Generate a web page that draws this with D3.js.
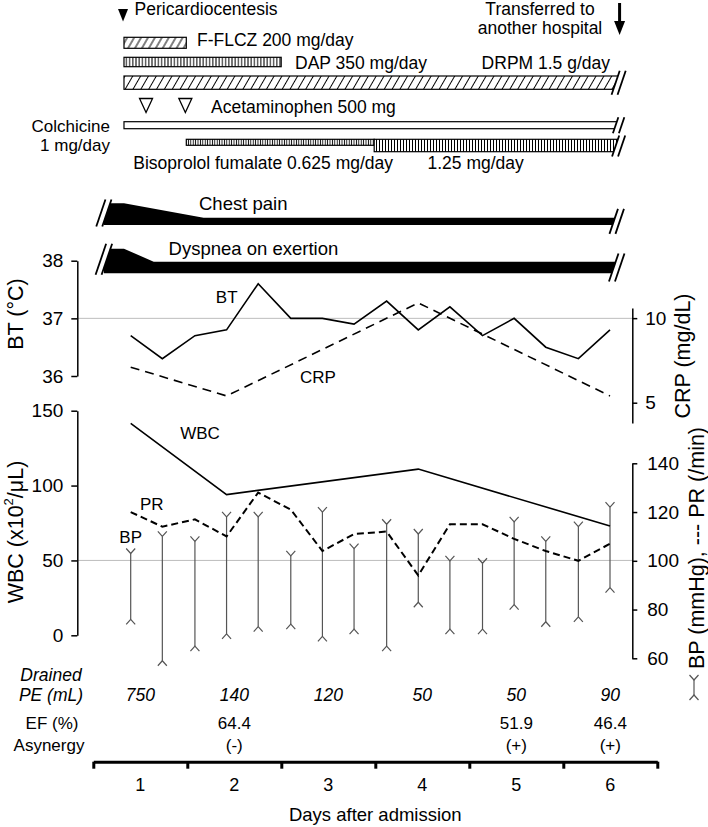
<!DOCTYPE html>
<html>
<head>
<meta charset="utf-8">
<script src="https://cdn.jsdelivr.net/npm/d3@7"></script>
<style>
  body { margin: 0; background: #fff; }
  svg { font-family: "Liberation Sans", Arial, sans-serif; }
</style>
</head>
<body>
<div id="chart"></div>
<script>
// vital signs, three readings a day (day 1 .. day 6)
const obsTime = [1, 1.33, 1.67, 2, 2.33, 2.67, 3, 3.33, 3.67, 4, 4.33, 4.67, 5, 5.33, 5.67, 6]
const btValues = [36.7, 36.3, 36.7, 36.8, 37.6, 37.0, 37.0, 36.9, 37.3, 36.8, 37.2, 36.7, 37.0, 36.5, 36.3, 36.8]
const prValues = [120, 114, 117, 110, 128, 121, 104, 111, 112, 94, 115, 115, 109, 104, 100, 107]
const bpSystolic = [103, 110, 108, 118, 118, 102, 120, 105, 115, 111, 100, 99, 116, 108, 114, 122]
const bpDiastolic = [76, 59, 65, 70, 73, 74, 69, 72, 65, 83, 72, 72, 82, 75, 77, 89]

// blood tests
const labTime = [1, 2, 4, 6]
const crpValues = [7.1, 5.4, 10.9, 5.4]
const wbcValues = [141.5, 94, 111, 73]

// table under the chart
const days = [1, 2, 3, 4, 5, 6]
const drainedPE = [750, 140, 120, 50, 50, 90]
const efPercent = ['', '64.4', '', '', '51.9', '46.4']
const asynergy = ['', '(-)', '', '', '(+)', '(+)']

// treatments (start / end in days)
const fflczDays = [0.93, 1.58]
const dapDays = [0.93, 2.57]
const drpmDays = [0.93, 6.09]
const colchicineDays = [0.93, 6.09]
const bisoprololDays = [1.58, 3.54, 6.09]
const acetaminophenDays = [1.16, 1.57]
const pericardiocentesisDay = 0.92
const transferDay = 6.1

// symptoms
const chestPainDays = [0.72, 0.93, 1.76, 6.07]
const chestPainLevel = [3, 3, 1, 1]
const dyspneaDays = [0.72, 0.93, 1.24, 6.07]
const dyspneaLevel = [3.4, 3.4, 1.6, 1.6]

const width = 708, height = 827
const left = 77.3, right = 632.3

const svg = d3.select('#chart').append('svg')
  .attr('width', width)
  .attr('height', height)

const x = d3.scaleLinear().domain([1, 6]).range([130.7, 610])
const yBT = d3.scaleLinear().domain([36, 38]).range([376, 260.7])
const yCRP = d3.scaleLinear().domain([3.8, 10.6]).range([423, 308])
const yWBC = d3.scaleLinear().domain([0, 150]).range([635.3, 410.7])
const yBP = d3.scaleLinear().domain([60, 140]).range([658.3, 463.3])
const sev = d3.scaleLinear().domain([0, 3]).range([0, 21.7])

// hatch patterns
const defs = svg.append('defs')
function hatch(id, w, angle, sw = 1) {
  const p = defs.append('pattern')
    .attr('id', id)
    .attr('patternUnits', 'userSpaceOnUse')
    .attr('width', w).attr('height', 20)
    .attr('patternTransform', `rotate(${angle})`)
  p.append('rect').attr('width', w).attr('height', 20).attr('fill', '#fff')
  p.append('line')
    .attr('x1', w / 2).attr('x2', w / 2).attr('y1', 0).attr('y2', 20)
    .attr('stroke', '#000').attr('stroke-width', sw)
}
hatch('diag', 6.8, 30)
hatch('diagSmall', 6, 30)
hatch('vert', 3.2, 0)
hatch('vertDense', 2.4, 0, 0.9)
hatch('vertMid', 3, 0)

function breakMark(xc, yc, h) {
  const dx = h * 0.17
  const g = svg.append('g')
  g.append('path')
    .attr('d', `M${xc - 3 - dx},${yc + h / 2}L${xc - 3 + dx},${yc - h / 2}L${xc + 3 + dx},${yc - h / 2}L${xc + 3 - dx},${yc + h / 2}Z`)
    .attr('fill', '#fff')
  ;[-3, 3].forEach(o => {
    g.append('line')
      .attr('x1', xc + o - dx).attr('y1', yc + h / 2)
      .attr('x2', xc + o + dx).attr('y2', yc - h / 2)
      .attr('stroke', '#000').attr('stroke-width', 1.8)
  })
}

function label(txt, tx, ty, opts = {}) {
  return svg.append('text')
    .attr('x', tx).attr('y', ty)
    .attr('font-size', opts.size || 17.5)
    .attr('text-anchor', opts.anchor || 'start')
    .attr('font-style', opts.italic ? 'italic' : null)
    .attr('fill', '#000')
    .text(txt)
}

// ---- treatments ----
label('Pericardiocentesis', 134.6, 15)
const px = x(pericardiocentesisDay)
svg.append('path')
  .attr('d', `M${px - 5},9L${px + 5},9L${px},21.5Z`)
  .attr('fill', '#000')

label('Transferred to', 540, 15, {anchor: 'middle'})
label('another hospital', 540, 34, {anchor: 'middle'})
const tx = x(transferDay)
svg.append('line').attr('x1', tx).attr('x2', tx).attr('y1', 3).attr('y2', 23)
  .attr('stroke', '#000').attr('stroke-width', 3)
svg.append('path')
  .attr('d', `M${tx - 5.5},21L${tx + 5.5},21L${tx},35Z`).attr('fill', '#000')

function drugBar(span, y0, h, fill) {
  svg.append('rect')
    .attr('x', x(span[0])).attr('y', y0)
    .attr('width', x(span[1]) - x(span[0])).attr('height', h)
    .attr('fill', fill).attr('stroke', '#000').attr('stroke-width', 1.2)
}
drugBar(fflczDays, 37.3, 11, 'url(#diagSmall)')
label('F-FLCZ 200 mg/day', 197, 46)
drugBar(dapDays, 57.3, 9.4, 'url(#vert)')
label('DAP 350 mg/day', 295, 69)
label('DRPM 1.5 g/day', 610, 69, {anchor: 'end'})
drugBar(drpmDays, 76, 13.3, 'url(#diag)')
breakMark(x(drpmDays[1]), 82.7, 24)

acetaminophenDays.forEach(d => {
  svg.append('path')
    .attr('d', `M${x(d) - 6.5},98.5L${x(d) + 6.5},98.5L${x(d)},112.5Z`)
    .attr('fill', '#fff').attr('stroke', '#000').attr('stroke-width', 1.3)
})
label('Acetaminophen 500 mg', 211, 112.5)

label('Colchicine', 110, 131.5, {anchor: 'end', size: 17})
label('1 mg/day', 110, 150.5, {anchor: 'end', size: 17})
drugBar(colchicineDays, 121.7, 7, '#fff')
breakMark(x(colchicineDays[1]), 125.2, 16)

drugBar([bisoprololDays[0], bisoprololDays[1]], 139.3, 6, 'url(#vertDense)')
drugBar([bisoprololDays[1], bisoprololDays[2]], 139.3, 12.4, 'url(#vertMid)')
breakMark(x(bisoprololDays[2]), 146, 21)
label('Bisoprolol fumalate 0.625 mg/day', 133.3, 169)
label('1.25 mg/day', 427.5, 169)

// ---- symptoms ----
function symptom(daysArr, levels, base, txt, txtX, txtY, hL, hR) {
  const pts = daysArr.map((d, i) => [d, levels[i]])
  const area = d3.area()
    .x(d => x(d[0]))
    .y0(base)
    .y1(d => base - sev(d[1]))
  svg.append('path').datum(pts).attr('d', area).attr('fill', '#000')
  breakMark(x(daysArr[0]), base - hL / 2 + 1.5, hL)
  breakMark(x(daysArr[daysArr.length - 1]), base - sev(levels[levels.length - 1]) / 2, hR)
  label(txt, txtX, txtY, {size: 18.5})
}
symptom(chestPainDays, chestPainLevel, 225, 'Chest pain', 199, 210, 27, 25)
symptom(dyspneaDays, dyspneaLevel, 273.3, 'Dyspnea on exertion', 168.6, 255, 31, 28)

// ---- grid lines ----
svg.append('line').attr('x1', left).attr('x2', right)
  .attr('y1', yBT(37)).attr('y2', yBT(37)).attr('stroke', '#bdbdbd').attr('stroke-width', 1)
svg.append('line').attr('x1', left).attr('x2', right)
  .attr('y1', yWBC(50)).attr('y2', yWBC(50)).attr('stroke', '#bdbdbd').attr('stroke-width', 1)

// ---- axes ----
const intFmt = d3.format('d')
function styleAxis(g) {
  g.selectAll('path, line').attr('stroke', '#000').attr('stroke-width', 1.5)
  g.selectAll('text').attr('font-size', 19).attr('fill', '#000')
    .attr('font-family', '"Liberation Sans", Arial, sans-serif')
}
svg.append('g').attr('transform', `translate(${left},0)`)
  .call(d3.axisLeft(yBT).tickValues([36, 37, 38]).tickFormat(intFmt)
    .tickSizeInner(6).tickSizeOuter(0).tickPadding(8))
  .call(styleAxis)
svg.append('g').attr('transform', `translate(${right},0)`)
  .call(d3.axisRight(yCRP).tickValues([5, 10]).tickFormat(intFmt)
    .tickSizeInner(5).tickSizeOuter(0).tickPadding(8))
  .call(styleAxis)
svg.append('g').attr('transform', `translate(${left},0)`)
  .call(d3.axisLeft(yWBC).tickValues([0, 50, 100, 150]).tickFormat(intFmt)
    .tickSizeInner(6).tickSizeOuter(0).tickPadding(8))
  .call(styleAxis)
svg.append('g').attr('transform', `translate(${right},0)`)
  .call(d3.axisRight(yBP).tickValues([60, 80, 100, 120, 140]).tickFormat(intFmt)
    .tickSizeInner(5).tickSizeOuter(0).tickPadding(10))
  .call(styleAxis)

// axis titles
function vTitle(tx, ty) {
  return svg.append('text')
    .attr('transform', `translate(${tx},${ty}) rotate(-90)`)
    .attr('text-anchor', 'middle')
    .attr('dominant-baseline', 'central')
    .attr('font-size', 21.5)
    .attr('fill', '#000')
}
vTitle(16, 314).text('BT (°C)')
const wt = vTitle(16, 532)
wt.append('tspan').text('WBC (x10')
wt.append('tspan').attr('font-size', 13).attr('dy', -8).text('2')
wt.append('tspan').attr('dy', 8).text('/μL)')
vTitle(683, 356).text('CRP (mg/dL)')
vTitle(697, 548).text('BP (mmHg), --- PR (/min)')

// ---- BP whiskers ----
function whisker(g, wx, yTop, yBot) {
  g.append('line').attr('x1', wx).attr('x2', wx).attr('y1', yTop).attr('y2', yBot)
  g.append('path').attr('d', `M${wx - 4.5},${yTop - 5}L${wx},${yTop}L${wx + 4.5},${yTop - 5}`)
  g.append('path').attr('d', `M${wx - 4.5},${yBot + 5}L${wx},${yBot}L${wx + 4.5},${yBot + 5}`)
}
const bpG = svg.append('g').attr('stroke', '#555').attr('stroke-width', 1.2).attr('fill', 'none')
obsTime.forEach((t, i) => whisker(bpG, x(t), yBP(bpSystolic[i]), yBP(bpDiastolic[i])))
const legG = svg.append('g').attr('stroke', '#555').attr('stroke-width', 1.2).attr('fill', 'none')
whisker(legG, 694, 680, 695)

// ---- lines ----
svg.append('path').datum(btValues)
  .attr('d', d3.line().x((d, i) => x(obsTime[i])).y(d => yBT(d)))
  .attr('fill', 'none').attr('stroke', '#000').attr('stroke-width', 1.6)
svg.append('path').datum(crpValues)
  .attr('d', d3.line().x((d, i) => x(labTime[i])).y(d => yCRP(d)))
  .attr('fill', 'none').attr('stroke', '#000').attr('stroke-width', 1.6)
  .attr('stroke-dasharray', '9,6')
svg.append('path').datum(prValues)
  .attr('d', d3.line().x((d, i) => x(obsTime[i])).y(d => yBP(d)))
  .attr('fill', 'none').attr('stroke', '#000').attr('stroke-width', 2)
  .attr('stroke-dasharray', '7,4')
svg.append('path').datum(wbcValues)
  .attr('d', d3.line().x((d, i) => x(labTime[i])).y(d => yWBC(d)))
  .attr('fill', 'none').attr('stroke', '#000').attr('stroke-width', 1.6)

label('BT', 226.7, 302.5, {anchor: 'middle', size: 17})
label('CRP', 318, 382.5, {anchor: 'middle', size: 17})
label('WBC', 200, 438.5, {anchor: 'middle', size: 17})
label('PR', 151.7, 510, {anchor: 'middle', size: 17})
label('BP', 130.7, 542.5, {anchor: 'middle', size: 17})

// ---- table + day axis ----
const dayBand = d3.scaleBand().domain(days).range([93.3, 657.3])
const dayEdge = d3.scaleLinear().domain([0.5, 6.5]).range([93.3, 657.3])
const cx = d => dayBand(d) + dayBand.bandwidth() / 2

label('Drained', 51, 681, {anchor: 'middle', italic: true})
label('PE (mL)', 51, 701, {anchor: 'middle', italic: true})
label('EF (%)', 52, 729, {anchor: 'middle', size: 17})
label('Asynergy', 49, 751, {anchor: 'middle', size: 17})
days.forEach((d, i) => {
  label(drainedPE[i], cx(d), 701, {anchor: 'middle', italic: true})
  label(efPercent[i], cx(d), 729, {anchor: 'middle', size: 17})
  label(asynergy[i], cx(d), 751, {anchor: 'middle', size: 17})
})

svg.append('g').attr('transform', 'translate(0,761.7)')
  .call(d3.axisBottom(dayEdge).tickValues([0.5, 1.5, 2.5, 3.5, 4.5, 5.5, 6.5])
    .tickFormat('').tickSizeInner(7).tickSizeOuter(0))
  .call(g => g.selectAll('path, line').attr('stroke', '#000').attr('stroke-width', 3))
svg.append('g').attr('transform', 'translate(0,772)')
  .call(d3.axisBottom(dayBand).tickSize(0).tickPadding(0))
  .call(g => g.select('.domain').remove())
  .call(g => g.selectAll('text').attr('font-size', 18).attr('fill', '#000')
    .attr('font-family', '"Liberation Sans", Arial, sans-serif').attr('dy', '1.05em'))

label('Days after admission', 375.3, 821, {anchor: 'middle', size: 18.5})
</script>
</body>
</html>
